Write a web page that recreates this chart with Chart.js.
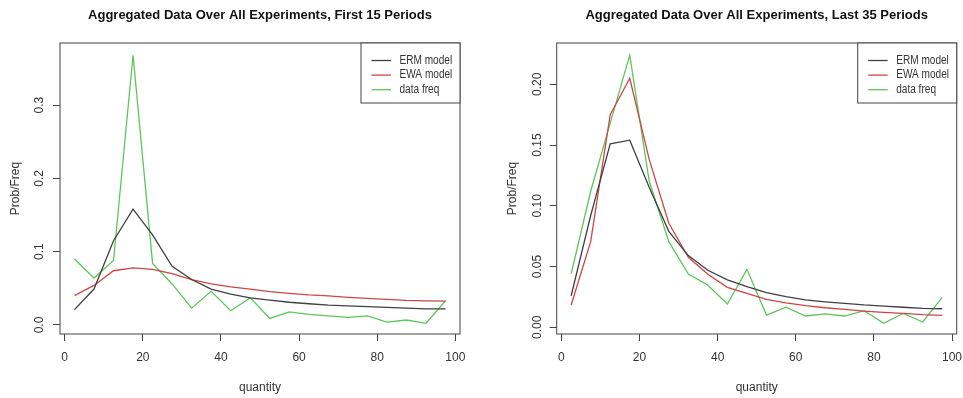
<!DOCTYPE html>
<html>
<head>
<meta charset="utf-8">
<script src="https://cdn.jsdelivr.net/npm/chart.js@4.4.1/dist/chart.umd.min.js"></script>
<style>
  body { margin: 0; background: #fff; }
  #wrap { position: relative; width: 963px; height: 398px; }
  canvas { position: absolute; top: 0; }
  #left-chart { left: 0; }
  #right-chart { left: 482px; }
</style>
</head>
<body>
<div id="wrap">
  <canvas id="left-chart" width="482" height="398"></canvas>
  <canvas id="right-chart" width="481" height="398"></canvas>
</div>
<script>
const quantities = [2.5, 7.5, 12.5, 17.5, 22.5, 27.5, 32.5, 37.5, 42.5, 47.5,
  52.5, 57.5, 62.5, 67.5, 72.5, 77.5, 82.5, 87.5, 92.5, 97.5];

// first 15 periods
const ermFirst = [0.021, 0.049, 0.115, 0.158, 0.123, 0.080, 0.062, 0.049, 0.042, 0.037,
  0.034, 0.031, 0.029, 0.027, 0.026, 0.025, 0.024, 0.023, 0.022, 0.022];
const ewaFirst = [0.040, 0.054, 0.074, 0.078, 0.076, 0.070, 0.062, 0.056, 0.052, 0.049,
  0.0455, 0.043, 0.041, 0.0396, 0.0378, 0.0364, 0.035, 0.0335, 0.033, 0.0325];
const dataFirst = [0.090, 0.064, 0.088, 0.368, 0.084, 0.056, 0.023, 0.046, 0.0195, 0.037,
  0.009, 0.018, 0.0146, 0.0123, 0.0105, 0.0123, 0.004, 0.0068, 0.0023, 0.033];

// last 35 periods
const ermLast = [0.026, 0.092, 0.151, 0.154, 0.115, 0.079, 0.059, 0.047, 0.039, 0.0334,
  0.0285, 0.0252, 0.0225, 0.021, 0.0197, 0.0184, 0.0175, 0.0165, 0.0156, 0.0153];
const ewaLast = [0.0184, 0.0705, 0.175, 0.205, 0.138, 0.0856, 0.0576, 0.0436, 0.0329, 0.028,
  0.023, 0.0202, 0.0178, 0.0161, 0.0148, 0.0134, 0.0123, 0.0115, 0.0104, 0.0099];
const dataLast = [0.044, 0.112, 0.168, 0.224, 0.120, 0.0705, 0.0439, 0.0346, 0.0192, 0.0477,
  0.0101, 0.0165, 0.0093, 0.011, 0.0093, 0.0137, 0.0033, 0.0115, 0.0044, 0.0247];

const seriesNames = ["ERM model", "EWA model", "data freq"];
const seriesColors = ["#404040", "#cf4545", "#5cc65c"];

const xTicks = [0, 20, 40, 60, 80, 100];
const yTicksFirst = [0, 0.1, 0.2, 0.3];
const yLabelsFirst = ["0.0", "0.1", "0.2", "0.3"];
const yTicksLast = [0, 0.05, 0.10, 0.15, 0.20];
const yLabelsLast = ["0.00", "0.05", "0.10", "0.15", "0.20"];

const FONT = "'Liberation Sans', Arial, sans-serif";
const INK = "#333";
const BOX = "#444";

// R style box around the plot region
const boxPlugin = {
  id: "box",
  afterDraw(chart) {
    const { ctx, chartArea: a } = chart;
    ctx.save();
    ctx.strokeStyle = BOX;
    ctx.lineWidth = 1;
    ctx.strokeRect(a.left, a.top, a.right - a.left, a.bottom - a.top);
    ctx.restore();
  }
};

// legend in the top right corner, inside the box
const cornerLegend = {
  id: "cornerLegend",
  afterDraw(chart) {
    const { ctx, chartArea: a } = chart;
    const w = 99, h = 60;
    const x0 = a.right - w, y0 = a.top;
    ctx.save();
    ctx.fillStyle = "#fff";
    ctx.fillRect(x0, y0, w, h);
    ctx.strokeStyle = BOX;
    ctx.lineWidth = 1;
    ctx.strokeRect(x0, y0, w, h);
    ctx.textBaseline = "middle";
    ctx.textAlign = "left";
    chart.data.datasets.forEach((ds, i) => {
      const y = y0 + 17.5 + i * 14.6;
      ctx.strokeStyle = ds.borderColor;
      ctx.lineWidth = 1.3;
      ctx.beginPath();
      ctx.moveTo(a.right - 88.5, y);
      ctx.lineTo(a.right - 69, y);
      ctx.stroke();
      // narrow lettering like the original
      ctx.save();
      ctx.translate(a.right - 60.5, y);
      ctx.scale(0.84, 1);
      ctx.font = "12px " + FONT;
      ctx.fillStyle = INK;
      ctx.fillText(ds.label, 0, 0);
      ctx.restore();
    });
    ctx.restore();
  }
};

function makeChart(canvasId, title, series, yTicks, yLabels, yMin, yMax, opts) {
  const datasets = series.map((vals, i) => ({
    label: seriesNames[i],
    data: quantities.map((q, j) => ({ x: q, y: vals[j] })),
    borderColor: seriesColors[i],
    borderWidth: 1.3,
    pointRadius: 0,
    tension: 0,
    fill: false
  }));

  return new Chart(document.getElementById(canvasId), {
    type: "line",
    data: { datasets },
    options: {
      responsive: false,
      animation: false,
      devicePixelRatio: 1,
      layout: { padding: { left: 0, right: opts.padRight, top: 0, bottom: 0 } },
      plugins: {
        legend: { display: false },
        tooltip: { enabled: false },
        title: {
          display: true,
          text: title,
          fullSize: false,
          color: "#111",
          font: { family: FONT, size: 13, weight: "bold" },
          padding: { top: 8, bottom: 19.4 }
        }
      },
      scales: {
        x: {
          type: "linear",
          min: -1.2,
          max: 101.2,
          afterBuildTicks: s => { s.ticks = xTicks.map(v => ({ value: v })); },
          afterFit: s => { s.height = 64; s.paddingLeft = 0; s.paddingRight = 0; },
          grid: { drawOnChartArea: false, tickLength: 7, tickColor: BOX },
          border: { display: false },
          ticks: {
            color: INK,
            font: { family: FONT, size: 12 },
            padding: 9.5,
            minRotation: 0,
            maxRotation: 0,
            autoSkip: false
          },
          title: {
            display: true,
            text: "quantity",
            color: INK,
            font: { family: FONT, size: 12 },
            padding: { top: 0, bottom: 2.8 }
          }
        },
        y: {
          type: "linear",
          min: yMin,
          max: yMax,
          afterBuildTicks: s => { s.ticks = yTicks.map(v => ({ value: v })); },
          afterFit: s => { s.width = opts.yWidth; s.paddingTop = 0; s.paddingBottom = 0; },
          grid: { drawOnChartArea: false, tickLength: 7, tickColor: BOX },
          border: { display: false },
          ticks: {
            color: INK,
            font: { family: FONT, size: 12 },
            minRotation: 90,
            maxRotation: 90,
            crossAlign: "center",
            padding: opts.yPad,
            autoSkip: false,
            callback: (v, i) => yLabels[i]
          },
          title: {
            display: true,
            text: "Prob/Freq",
            color: INK,
            font: { family: FONT, size: 12 },
            padding: { top: opts.yTitlePad, bottom: 0 }
          }
        }
      }
    },
    plugins: [boxPlugin, cornerLegend]
  });
}

makeChart("left-chart", "Aggregated Data Over All Experiments, First 15 Periods",
  [ermFirst, ewaFirst, dataFirst], yTicksFirst, yLabelsFirst, -0.0123, 0.3847,
  { padRight: 22, yWidth: 60, yPad: 4.7, yTitlePad: 8.8 });

makeChart("right-chart", "Aggregated Data Over All Experiments, Last 35 Periods",
  [ermLast, ewaLast, dataLast], yTicksLast, yLabelsLast, -0.0055, 0.234,
  { padRight: 6.3, yWidth: 74.7, yPad: 0.7, yTitlePad: 23.8 });
</script>
</body>
</html>
